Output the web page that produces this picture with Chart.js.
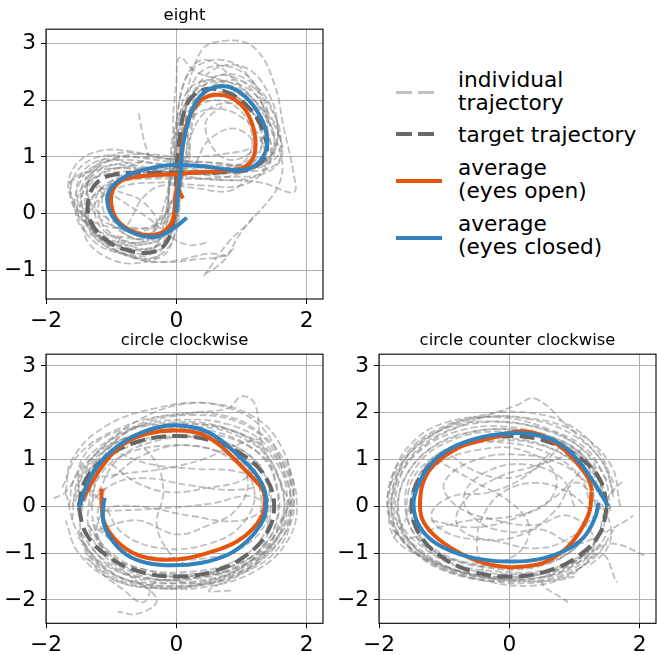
<!DOCTYPE html>
<html>
<head>
<meta charset="utf-8">
<script src="https://cdn.jsdelivr.net/npm/chart.js@4.4.1/dist/chart.umd.min.js"></script>
<style>
  body { margin: 0; background: #fff; }
  #wrap { position: relative; width: 657px; height: 655px; font-family: 'DejaVu Sans', sans-serif; }
  #wrap canvas { position: absolute; }
  .lg-line { position: absolute; left: 396px; width: 45px; }
  .lg-text { position: absolute; left: 458px; font-size: 21.7px; line-height: 23.3px; color: #000; white-space: nowrap; }
</style>
</head>
<body>
<div id="wrap">
  <canvas id="eight" width="330" height="330" style="left:0;top:0"></canvas>
  <canvas id="cw" width="330" height="330" style="left:0;top:325px"></canvas>
  <canvas id="ccw" width="324" height="330" style="left:333px;top:325px"></canvas>

  <div class="lg-line" style="top:90.6px;height:3.4px;background:repeating-linear-gradient(to right,#c0c0c0 0 15.7px,transparent 15.7px 22.3px)"></div>
  <div class="lg-text" style="top:67.5px">individual<br>trajectory</div>
  <div class="lg-line" style="top:132.3px;height:4px;background:repeating-linear-gradient(to right,#6a6a6a 0 15.7px,transparent 15.7px 22.3px)"></div>
  <div class="lg-text" style="top:122.5px">target trajectory</div>
  <div class="lg-line" style="top:179px;height:4px;width:46px;background:#e6550d"></div>
  <div class="lg-text" style="top:155.8px">average<br>(eyes open)</div>
  <div class="lg-line" style="top:235.5px;height:4px;width:46px;background:#3182bd"></div>
  <div class="lg-text" style="top:211.5px">average<br>(eyes closed)</div>
</div>

<script>
// axes ticks
const xTicks = [-2, 0, 2];
const eightYTicks = [-1, 0, 1, 2, 3];
const circleYTicks = [-2, -1, 0, 1, 2, 3];

// figure eight
const eightTarget = [[0.0,0.8],[0.06,1.42],[0.12,1.8],[0.25,2.07],[0.5,2.2],[0.85,2.1],[1.15,1.82],[1.33,1.45],[1.38,1.05],[1.15,0.8],[0.7,0.73],[0.2,0.73],[-0.4,0.72],[-0.9,0.7],[-1.2,0.57],[-1.35,0.25],[-1.32,-0.12],[-1.08,-0.46],[-0.75,-0.64],[-0.4,-0.68],[-0.18,-0.55],[-0.06,-0.22],[-0.01,0.3],[0.0,0.8]];
const eightOpen = [[0.1,0.27],[0.03,0.47],[0.05,0.75],[0.09,1.2],[0.19,1.68],[0.36,1.98],[0.57,2.09],[0.83,2.05],[1.06,1.83],[1.2,1.42],[1.19,1.02],[1.04,0.82],[0.78,0.76],[0.37,0.73],[-0.14,0.69],[-0.55,0.66],[-0.86,0.57],[-0.99,0.36],[-0.98,0.06],[-0.86,-0.17],[-0.6,-0.34],[-0.35,-0.37],[-0.16,-0.28],[-0.05,-0.08],[-0.01,0.3],[0.03,0.6]];
const eightClosed = [[0.16,-0.07],[-0.04,-0.25],[-0.3,-0.4],[-0.62,-0.36],[-0.93,-0.12],[-1.06,0.22],[-0.97,0.5],[-0.65,0.72],[-0.24,0.84],[0.06,0.86],[0.47,0.83],[0.88,0.77],[1.18,0.83],[1.36,1.07],[1.39,1.36],[1.29,1.71],[1.06,2.06],[0.78,2.24],[0.52,2.2],[0.32,2.0],[0.19,1.65],[0.1,1.2],[0.06,0.71],[0.02,0.3],[0.0,0.02]];
const eightRuns = [
  [[0.1,0.9],[0.15,1.6],[0.35,2.15],[0.7,2.45],[1.1,2.35],[1.45,1.9],[1.55,1.3],[1.3,0.9],[0.7,0.8],[0,0.85],[-0.7,0.9],[-1.2,0.75],[-1.45,0.3],[-1.3,-0.25],[-0.9,-0.55],[-0.4,-0.6],[-0.05,-0.3],[0.05,0.3],[0.1,0.9]],
  [[0.05,0.7],[0.1,1.6],[0.37,2.85],[0.78,3.05],[1.2,2.92],[1.5,2.3],[1.65,1.5],[1.8,0.7],[1.8,0.38],[1.3,0.55],[0.6,0.6],[-0.2,0.65],[-0.9,0.55],[-1.35,0.2],[-1.3,-0.35],[-0.8,-0.7],[-0.3,-0.75],[0,-0.3],[0.05,0.7]],
  [[0,0.7],[0.1,1.4],[0.3,1.85],[0.6,2.0],[0.95,1.85],[1.15,1.45],[1.1,1.0],[0.8,0.8],[0.3,0.75],[-0.3,0.8],[-0.8,0.7],[-1.1,0.4],[-1.1,0],[-0.8,-0.35],[-0.4,-0.45],[-0.1,-0.2],[0,0.7]],
  [[0.2,1.1],[0.15,1.8],[0.3,2.4],[0.6,2.6],[1.0,2.5],[1.3,2.1],[1.4,1.6],[1.2,1.2],[0.7,1.05],[0.1,1.0],[-0.6,1.05],[-1.1,0.9],[-1.35,0.55],[-1.3,0.1],[-1.0,-0.2],[-0.5,-0.3],[-0.1,0.1],[0.2,1.1]],
  [[-0.05,0.6],[0.0,1.3],[0.05,2.0],[0.25,2.6],[0.5,2.7],[0.85,2.4],[1.25,1.9],[1.55,1.25],[1.6,0.6],[1.2,-0.05],[0.8,-0.5],[0.42,-1.1]],
  [[0,0.85],[0.05,1.7],[0.2,2.2],[0.55,2.35],[0.95,2.15],[1.3,1.7],[1.45,1.15],[1.35,0.75],[0.9,0.65],[0.3,0.7],[-0.4,0.75],[-1.0,0.8],[-1.6,0.6],[-1.55,0.15],[-1.3,-0.3],[-0.9,-0.6],[-0.5,-0.7],[-0.15,-0.5],[0,0.85]],
  [[0.05,0.5],[0.1,1.2],[0.25,1.7],[0.6,1.85],[1.0,1.7],[1.3,1.3],[1.35,0.8],[1.0,0.5],[0.4,0.5],[-0.3,0.55],[-0.9,0.45],[-1.3,0.1],[-1.4,-0.4],[-1.0,-0.8],[-0.5,-0.85],[-0.1,-0.6],[0.05,0.5]],
  [[-0.1,0.8],[0.0,1.5],[0.2,2.05],[0.5,2.3],[0.85,2.3],[1.2,2.0],[1.55,1.45],[1.6,0.95],[1.2,0.65],[0.6,0.6],[0,0.7],[-0.6,0.85],[-1.15,0.95],[-1.5,0.6],[-1.45,0.0],[-1.1,-0.45],[-0.6,-0.55],[-0.2,-0.35],[-0.1,0.8]],
  [[0.1,0.7],[0.2,1.3],[0.45,1.8],[0.8,1.95],[1.15,1.8],[1.4,1.4],[1.45,1.0],[1.15,0.85],[0.6,0.9],[0,0.95],[-0.5,1.05],[-0.95,1.05],[-1.3,0.75],[-1.35,0.3],[-1.1,-0.05],[-0.6,-0.25],[-0.15,-0.1],[0.1,0.7]],
  [[-0.58,1.77],[-0.5,1.3],[-0.45,1.0],[-0.7,0.85],[-1.1,0.75],[-1.4,0.45],[-1.45,0.0],[-1.1,-0.5],[-0.6,-0.8],[-0.1,-0.85],[0.3,-0.8],[0.7,-0.75],[0.9,-0.6]],
  [[0,0.9],[-0.05,1.6],[0.0,2.3],[0.05,2.75],[0.3,2.5],[0.7,2.35],[1.1,2.2],[1.4,1.8],[1.6,1.3],[1.55,0.9],[1.2,0.75],[0.6,0.75],[0,0.8],[-0.6,0.7],[-1.0,0.5],[-1.2,0.1],[-1.0,-0.35],[-0.5,-0.5],[-0.1,-0.2],[0,0.9]],
  [[0.15,0.8],[0.2,1.5],[0.4,2.0],[0.7,2.15],[1.05,2.05],[1.3,1.7],[1.35,1.3],[1.05,0.9],[0.5,0.85],[-0.1,0.85],[-0.75,0.95],[-1.25,0.85],[-1.5,0.5],[-1.55,0.05],[-1.4,-0.3],[-0.9,-0.5],[-0.4,-0.4],[0.15,0.8]],
  [[1.18,-0.05],[0.95,-0.4],[0.78,-0.75],[0.6,-0.95],[0.45,-1.05]],
  [[0.05,0.75],[0.1,1.5],[0.3,2.0],[0.6,2.25],[0.95,2.2],[1.3,1.85],[1.5,1.35],[1.4,0.95],[1.0,0.75],[0.4,0.7],[-0.3,0.75],[-0.9,0.8],[-1.3,0.55],[-1.4,0.1],[-1.2,-0.35],[-0.8,-0.6],[-0.35,-0.6],[-0.05,-0.25],[0.05,0.75]],
  [[-0.05,0.85],[0.05,1.55],[0.25,2.1],[0.55,2.4],[0.9,2.4],[1.25,2.05],[1.45,1.5],[1.5,1.05],[1.25,0.8],[0.7,0.72],[0.1,0.72],[-0.5,0.8],[-1.05,0.85],[-1.4,0.6],[-1.45,0.15],[-1.2,-0.3],[-0.75,-0.55],[-0.3,-0.55],[-0.05,0.85]],
  [[0.1,0.6],[0.1,1.35],[0.3,1.9],[0.65,2.1],[1.0,2.0],[1.25,1.6],[1.3,1.15],[1.1,0.85],[0.6,0.75],[0.0,0.75],[-0.6,0.65],[-1.05,0.55],[-1.25,0.2],[-1.15,-0.25],[-0.75,-0.5],[-0.35,-0.5],[-0.05,-0.2],[0.1,0.6]],
  [[0,0.95],[0.1,1.7],[0.35,2.3],[0.7,2.6],[1.1,2.55],[1.4,2.15],[1.55,1.6],[1.5,1.1],[1.2,0.85],[0.6,0.82],[0,0.9],[-0.7,1.0],[-1.2,1.0],[-1.55,0.7],[-1.6,0.2],[-1.35,-0.2],[-0.9,-0.4],[-0.4,-0.35],[0,0.95]],
  [[-0.1,0.7],[-0.05,1.4],[0.15,1.95],[0.45,2.2],[0.8,2.15],[1.15,1.8],[1.35,1.35],[1.3,0.95],[0.95,0.7],[0.4,0.62],[-0.2,0.62],[-0.8,0.58],[-1.2,0.4],[-1.35,-0.05],[-1.15,-0.5],[-0.7,-0.75],[-0.25,-0.7],[-0.1,0.7]],
  [[0.2,0.95],[0.25,1.6],[0.45,2.15],[0.8,2.35],[1.15,2.25],[1.45,1.85],[1.6,1.35],[1.5,0.95],[1.1,0.85],[0.5,0.9],[-0.1,0.95],[-0.7,1.1],[-1.2,1.1],[-1.55,0.85],[-1.65,0.4],[-1.4,-0.05],[-0.9,-0.25],[-0.3,-0.15],[0.2,0.95]],
  [[-0.05,0.8],[0,1.6],[0.15,2.4],[0.4,2.65],[0.75,2.7],[1.05,2.5],[1.3,2.0],[1.4,1.4],[1.3,0.95],[0.9,0.75],[0.3,0.7],[-0.4,0.72],[-1.0,0.72],[-1.45,0.45],[-1.5,-0.05],[-1.25,-0.5],[-0.8,-0.7],[-0.35,-0.65],[-0.05,0.8]],
  [[-1.65,0.55],[-1.4,0.7],[-1.0,0.95],[-0.5,1.0],[0,0.95],[0.5,0.85],[1.0,0.8],[1.3,1.0]],
  [[0.78,-0.75],[0.5,-0.7],[0.1,-0.8],[-0.3,-0.85],[-0.7,-0.75],[-1.1,-0.5],[-1.35,-0.15]],
  [[-1.2,0.5],[-0.8,0.2],[-0.4,-0.1],[-0.1,-0.4],[0.2,-0.55],[0.5,-0.5]],
  [[-0.9,-0.5],[-0.7,-0.1],[-0.5,0.3],[-0.2,0.5],[0.3,0.45],[0.8,0.4],[1.1,0.6]],
  [[0.3,0.9],[0.5,1.3],[0.9,1.5],[1.2,1.2],[0.9,0.95],[0.6,1.1],[0.45,1.6],[0.7,1.9]],
  [[-1.4,0.65],[-1.1,0.3],[-0.9,-0.2],[-0.6,-0.45],[-0.3,-0.2],[-0.5,0.2],[-0.9,0.4]]
];

// circle clockwise
const cwTarget = [[-1.5,0],[-1.39,0.57],[-1.06,1.06],[-0.57,1.39],[0,1.5],[0.57,1.39],[1.06,1.06],[1.39,0.57],[1.5,0],[1.39,-0.57],[1.06,-1.06],[0.57,-1.39],[0,-1.5],[-0.57,-1.39],[-1.06,-1.06],[-1.39,-0.57],[-1.5,0]];
const cwOpen = [[-1.15,0.38],[-1.14,-0.11],[-1.09,-0.4],[-0.91,-0.75],[-0.6,-1.04],[-0.24,-1.14],[0.16,-1.11],[0.57,-0.96],[0.93,-0.75],[1.18,-0.47],[1.34,-0.11],[1.34,0.31],[1.23,0.52],[0.98,0.88],[0.67,1.3],[0.37,1.55],[-0.04,1.62],[-0.45,1.55],[-0.76,1.38],[-0.96,1.16],[-1.16,0.81],[-1.32,0.45],[-1.44,0.12]];
const cwClosed = [[-1.49,-0.03],[-1.4,0.35],[-1.27,0.74],[-1.01,1.16],[-0.65,1.5],[-0.24,1.7],[0.16,1.71],[0.57,1.52],[0.98,1.04],[1.23,0.67],[1.36,0.31],[1.37,-0.11],[1.29,-0.4],[1.08,-0.75],[0.78,-1.04],[0.37,-1.21],[-0.04,-1.26],[-0.45,-1.21],[-0.76,-1.04],[-1.01,-0.68],[-1.12,-0.33],[-1.12,0.0],[-1.1,0.18]];
const cwRuns = [
  [[-1.6,0],[-1.4,0.8],[-0.9,1.5],[0,1.8],[0.9,1.6],[1.5,1.0],[1.7,0.1],[1.5,-0.8],[0.9,-1.5],[0,-1.7],[-0.9,-1.5],[-1.4,-0.8],[-1.5,0]],
  [[-1.4,0.1],[-1.2,1.0],[-0.6,1.7],[0.3,1.95],[1.1,1.7],[1.6,1.0],[1.8,0.2],[1.6,-0.6],[1.1,-1.2],[0.3,-1.55],[-0.5,-1.5],[-1.1,-1.0],[-1.3,-0.3]],
  [[-1.5,-0.2],[-1.35,0.7],[-0.8,1.3],[0,1.5],[0.8,1.35],[1.3,0.8],[1.4,0.1],[1.0,-0.3],[0.2,-0.2],[-0.6,0.0],[-1.1,-0.1],[-1.2,-0.7],[-0.8,-1.3],[0,-1.5],[0.8,-1.4]],
  [[-1.7,0.3],[-1.6,1.0],[-1.1,1.7],[-0.3,2.1],[0.5,2.2],[1.2,1.9],[1.6,1.3],[1.75,0.5],[1.6,-0.4],[1.2,-1.1],[0.5,-1.6],[-0.3,-1.7],[-1.0,-1.4],[-1.5,-0.6],[-1.7,0.3]],
  [[-1.3,0.2],[-1.1,1.1],[-0.5,1.8],[0.3,2.0],[0.8,2.1],[1.0,2.35],[1.2,2.2],[1.3,1.4],[1.5,0.6],[1.55,-0.2],[1.3,-0.9],[0.8,-1.3],[0.1,-1.5],[-0.6,-1.4],[-1.1,-0.9],[-1.3,-0.2]],
  [[-1.2,0.3],[-0.9,1.0],[-0.3,1.4],[0.4,1.45],[1.0,1.1],[1.25,0.5],[0.9,0.35],[0.2,0.45],[-0.5,0.6],[-1.0,0.45],[-1.35,-0.1],[-1.2,-0.9],[-0.7,-1.5],[-0.3,-2.0],[-0.6,-2.3],[-0.9,-2.25]],
  [[-1.5,0.2],[-1.45,1.0],[-1.0,1.55],[-0.2,1.75],[0.6,1.7],[1.2,1.35],[1.55,0.7],[1.65,-0.1],[1.4,-0.8],[0.9,-1.25],[0.2,-1.45],[-0.5,-1.35],[-1.0,-1.0],[-1.35,-0.4]],
  [[-1.88,0.17],[-1.7,0.3],[-1.4,0.9],[-0.9,1.4],[-0.1,1.6],[0.7,1.5],[1.3,1.1],[1.6,0.5],[1.75,-0.3],[1.5,-1.0],[1.0,-1.45],[0.5,-1.8],[0.85,-1.8]],
  [[-1.3,-0.1],[-1.2,0.6],[-0.8,1.1],[-0.1,1.3],[0.6,1.2],[1.1,0.8],[1.3,0.2],[1.2,-0.4],[0.7,-0.9],[0,-1.1],[-0.7,-1.0],[-1.2,-0.5]],
  [[-1.1,-0.1],[-0.3,-0.05],[0.5,0.05],[1.2,0.2],[1.4,-0.3],[1.3,-0.9],[0.9,-1.4],[0.3,-1.7],[-0.3,-1.75],[-0.9,-1.6],[-1.4,-1.1]],
  [[-1.6,-0.3],[-1.5,0.6],[-1.1,1.3],[-0.5,1.9],[0.2,2.2],[0.8,2.1],[1.3,1.7],[1.6,1.0],[1.8,0.2],[1.7,-0.5],[1.2,-1.2],[0.6,-1.55],[-0.2,-1.65],[-0.9,-1.5],[-1.4,-1.0]],
  [[-1.0,0.6],[-0.5,1.1],[0.2,1.3],[0.9,0.95],[1.2,0.3],[1.0,-0.4],[0.5,-0.8],[-0.2,-0.9],[-0.8,-0.6],[-1.1,0.0],[-1.4,0.6],[-1.2,1.0]],
  [[-1.5,-0.5],[-1.3,-1.2],[-0.8,-1.8],[-0.5,-2.05],[-0.3,-1.6],[0.4,-1.65],[1.0,-1.4],[1.35,-1.0],[1.6,-0.3],[1.8,0.3],[1.7,1.0]],
  [[-1.55,0.1],[-1.4,0.75],[-1.0,1.3],[-0.4,1.6],[0.3,1.65],[0.9,1.45],[1.35,1.0],[1.55,0.4],[1.55,-0.3],[1.3,-0.9],[0.8,-1.35],[0.1,-1.55],[-0.6,-1.5],[-1.15,-1.1],[-1.5,-0.5]],
  [[-1.45,-0.1],[-1.35,0.6],[-0.95,1.25],[-0.35,1.6],[0.35,1.7],[0.95,1.5],[1.4,1.05],[1.6,0.45],[1.65,-0.2],[1.45,-0.85],[0.95,-1.35],[0.3,-1.6],[-0.4,-1.6],[-1.0,-1.3],[-1.35,-0.8]],
  [[-1.65,0.0],[-1.55,0.65],[-1.2,1.25],[-0.6,1.7],[0.1,1.85],[0.8,1.75],[1.35,1.35],[1.65,0.75],[1.75,0.05],[1.55,-0.65],[1.1,-1.2],[0.4,-1.5],[-0.4,-1.55],[-1.1,-1.25],[-1.55,-0.6]],
  [[-1.35,0.0],[-1.25,0.7],[-0.85,1.2],[-0.25,1.45],[0.45,1.45],[1.0,1.2],[1.35,0.7],[1.45,0.0],[1.3,-0.7],[0.85,-1.2],[0.2,-1.4],[-0.5,-1.35],[-1.05,-1.0],[-1.35,-0.4]],
  [[-1.75,0.4],[-1.5,1.1],[-0.9,1.65],[-0.1,1.95],[0.7,1.95],[1.3,1.55],[1.7,0.85],[1.85,0.0],[1.7,-0.75],[1.25,-1.35],[0.55,-1.7],[-0.3,-1.75],[-1.0,-1.55],[-1.5,-1.0],[-1.7,-0.3]],
  [[-1.0,1.2],[-0.4,0.9],[0.3,0.8],[0.9,0.75],[1.3,0.5],[1.4,-0.2],[1.1,-0.8],[0.5,-1.1],[-0.3,-1.1],[-0.9,-0.8],[-1.2,-0.3],[-1.1,0.4]],
  [[-1.45,0.3],[-1.2,1.05],[-0.6,1.55],[0.2,1.75],[0.9,1.6],[1.45,1.15],[1.7,0.5],[1.75,-0.2],[1.5,-0.9],[1.0,-1.4],[0.3,-1.7],[-0.5,-1.7],[-1.1,-1.4],[-1.45,-0.8]],
  [[-1.0,0.9],[-0.6,0.5],[-0.1,0.3],[0.5,0.4],[1.0,0.55],[1.3,0.9]],
  [[-1.2,-0.5],[-0.6,-0.3],[0.0,-0.6],[0.5,-0.4],[0.9,-0.1],[1.1,0.5],[0.9,1.1]],
  [[-0.6,1.4],[-0.3,0.9],[-0.2,0.3],[-0.3,-0.4],[-0.1,-1.0],[0.2,-1.3]],
  [[-1.3,0.6],[-0.8,0.7],[-0.2,0.8],[0.4,1.0],[0.9,1.3],[1.3,1.45]]
];

// circle counter clockwise
const ccwTarget = [[1.5,0],[1.39,0.57],[1.06,1.06],[0.57,1.39],[0,1.5],[-0.57,1.39],[-1.06,1.06],[-1.39,0.57],[-1.5,0],[-1.39,-0.57],[-1.06,-1.06],[-0.57,-1.39],[0,-1.5],[0.57,-1.39],[1.06,-1.06],[1.39,-0.57],[1.5,0]];
const ccwOpen = [[1.26,0.31],[1.23,-0.11],[1.08,-0.54],[0.88,-0.89],[0.62,-1.14],[0.42,-1.25],[0.01,-1.3],[-0.4,-1.21],[-0.81,-0.96],[-1.16,-0.61],[-1.34,-0.26],[-1.37,0.1],[-1.32,0.52],[-1.16,0.88],[-0.81,1.23],[-0.5,1.38],[-0.09,1.52],[0.11,1.6],[0.42,1.55],[0.72,1.34],[0.98,1.02],[1.21,0.6],[1.27,0.33]];
const ccwClosed = [[1.52,0],[1.29,0.52],[1.03,1.02],[0.72,1.38],[0.32,1.55],[-0.09,1.55],[-0.5,1.45],[-0.91,1.23],[-1.22,0.88],[-1.42,0.38],[-1.47,0],[-1.39,-0.4],[-1.17,-0.75],[-0.81,-1.0],[-0.4,-1.14],[0.01,-1.18],[0.42,-1.14],[0.83,-0.96],[1.13,-0.68],[1.31,-0.26],[1.37,0.07]];
const ccwRuns = [
  [[1.5,0],[1.3,0.8],[0.8,1.4],[0,1.65],[-0.8,1.5],[-1.4,1.0],[-1.7,0.2],[-1.6,-0.6],[-1.1,-1.2],[-0.3,-1.5],[0.5,-1.45],[1.1,-1.1],[1.45,-0.5]],
  [[1.6,0.3],[1.4,1.0],[0.9,1.7],[0.4,2.3],[0.1,2.15],[-0.6,1.8],[-1.3,1.3],[-1.7,0.6],[-1.8,-0.2],[-1.5,-0.9],[-0.9,-1.35],[-0.1,-1.55],[0.7,-1.45],[1.3,-1.0]],
  [[1.4,0.2],[1.2,0.9],[0.6,1.4],[-0.2,1.6],[-0.9,1.4],[-1.4,0.9],[-1.6,0.1],[-1.4,-0.7],[-0.9,-1.2],[-0.1,-1.4],[0.6,-1.35],[1.2,-1.0],[1.6,-0.8],[2.07,-1.05]],
  [[1.3,0.1],[1.1,0.8],[0.5,1.3],[-0.3,1.4],[-1.0,1.2],[-1.4,0.6],[-1.5,-0.1],[-1.3,-0.8],[-0.7,-1.2],[0.1,-1.3],[0.8,-1.1],[1.2,-0.6]],
  [[1.2,0.5],[0.8,0.9],[0.2,1.1],[-0.5,1.0],[-1.0,0.5],[-0.8,0.0],[-0.2,-0.3],[0.4,-0.4],[0.9,-0.2],[1.3,-0.7],[1.0,-1.2],[0.5,-1.6],[0.9,-2.05]],
  [[1.7,0.0],[1.55,0.9],[1.0,1.6],[0.2,1.9],[-0.6,1.85],[-1.3,1.4],[-1.75,0.7],[-1.85,-0.1],[-1.75,-0.7],[-1.3,-1.1],[-0.6,-1.45],[0.2,-1.6],[0.9,-1.5],[1.4,-1.0],[1.65,-1.63]],
  [[1.35,-0.2],[1.2,0.6],[0.7,1.2],[0,1.45],[-0.7,1.35],[-1.3,0.9],[-1.55,0.3],[-1.5,-0.5],[-1.1,-1.0],[-0.4,-1.3],[0.4,-1.3],[1.0,-0.9],[1.3,-0.3]],
  [[1.1,1.2],[0.5,0.9],[-0.2,0.6],[-0.7,0.1],[-0.8,-0.4],[-0.4,-0.7],[0.2,-0.6],[0.7,-0.1],[1.0,0.5],[1.3,0.2],[1.55,-0.4],[1.5,-0.9],[1.2,-1.3]],
  [[1.45,0.4],[1.2,1.1],[0.7,1.55],[-0.1,1.8],[-0.9,1.7],[-1.5,1.2],[-1.75,0.4],[-1.7,-0.4],[-1.3,-1.0],[-0.7,-1.4],[0.1,-1.5],[0.8,-1.3],[1.3,-0.8],[1.55,0.0]],
  [[1.0,0.0],[0.8,0.6],[0.2,0.9],[-0.4,0.7],[-0.7,0.2],[-0.5,-0.3],[0.0,-0.55],[0.5,-0.5],[1.0,-0.8],[1.4,-0.6],[1.8,-0.3],[1.9,-0.2]],
  [[1.6,0.5],[1.35,1.2],[0.9,1.75],[0.3,2.0],[-0.4,1.95],[-1.1,1.6],[-1.6,1.0],[-1.8,0.2],[-1.7,-0.6],[-1.2,-1.2],[-0.5,-1.55],[0.3,-1.7],[1.0,-1.5]],
  [[-1.4,0.4],[-1.1,0.9],[-0.5,1.2],[0.2,1.2],[0.7,0.7],[0.6,0.1],[0.1,-0.2],[-0.6,-0.3],[-1.2,-0.5],[-1.6,-0.7],[-1.8,-0.5]],
  [[1.45,0.1],[1.3,0.75],[0.9,1.3],[0.2,1.6],[-0.55,1.6],[-1.2,1.25],[-1.6,0.6],[-1.7,-0.1],[-1.5,-0.8],[-1.0,-1.3],[-0.25,-1.55],[0.55,-1.5],[1.15,-1.1],[1.45,-0.5]],
  [[1.55,-0.1],[1.45,0.65],[1.05,1.3],[0.4,1.7],[-0.35,1.8],[-1.05,1.55],[-1.55,1.0],[-1.8,0.3],[-1.7,-0.45],[-1.3,-1.05],[-0.6,-1.45],[0.2,-1.55],[0.95,-1.35],[1.4,-0.8]],
  [[1.35,0.3],[1.15,0.95],[0.65,1.45],[-0.05,1.7],[-0.8,1.6],[-1.4,1.15],[-1.7,0.5],[-1.7,-0.25],[-1.35,-0.85],[-0.75,-1.3],[0.05,-1.45],[0.8,-1.3],[1.3,-0.8],[1.45,-0.15]],
  [[1.6,0.2],[1.45,0.9],[1.0,1.5],[0.35,1.85],[-0.4,1.9],[-1.1,1.65],[-1.6,1.1],[-1.85,0.4],[-1.8,-0.35],[-1.45,-1.0],[-0.85,-1.45],[-0.05,-1.6],[0.75,-1.5],[1.3,-1.1],[1.6,-0.5]],
  [[1.25,-0.05],[1.1,0.6],[0.65,1.1],[0.0,1.35],[-0.7,1.3],[-1.25,0.9],[-1.5,0.25],[-1.45,-0.45],[-1.05,-1.0],[-0.4,-1.25],[0.35,-1.25],[0.95,-0.95],[1.25,-0.45]],
  [[0.6,1.1],[0.2,0.6],[-0.3,0.3],[-0.9,0.2],[-1.2,-0.2],[-0.9,-0.6],[-0.2,-0.75],[0.4,-0.9],[0.9,-0.7],[1.3,-0.2],[1.6,0.35],[1.75,0.55]],
  [[-1.78,-0.68],[-1.6,-0.3],[-1.45,0.3],[-1.1,0.95],[-0.5,1.4],[0.2,1.55],[0.8,1.4],[1.25,0.9],[1.45,0.3]],
  [[1.5,0.55],[1.2,1.2],[0.6,1.65],[-0.15,1.9],[-0.95,1.8],[-1.5,1.35],[-1.8,0.6],[-1.85,-0.2],[-1.55,-0.85],[-1.0,-1.35],[-0.25,-1.6],[0.55,-1.6],[1.15,-1.25],[1.5,-0.6]],
  [[-1.0,0.9],[-0.5,0.5],[0.0,0.1],[0.3,-0.4],[0.2,-0.9],[-0.1,-1.2]],
  [[-1.2,-0.3],[-0.6,-0.45],[0.0,-0.3],[0.6,0.1],[1.0,0.6],[1.2,1.0]],
  [[0.8,1.3],[0.4,0.8],[-0.1,0.6],[-0.6,0.8],[-0.9,1.1]],
  [[-0.4,-1.4],[-0.5,-0.8],[-0.4,-0.2],[-0.1,0.3],[0.4,0.5],[0.9,0.3],[1.25,-0.1]]
];

const tickFont = { family: 'DejaVu Sans', size: 21.7 };
const fmt = v => v < 0 ? '\u2212' + Math.abs(v) : String(v);

// rahmen um die achse (matplotlib spines)
const spines = {
  id: 'spines',
  afterDraw(chart) {
    const a = chart.chartArea, ctx = chart.ctx;
    ctx.save();
    ctx.strokeStyle = '#000';
    ctx.lineWidth = 1.1;
    ctx.strokeRect(a.left, a.top, a.right - a.left, a.bottom - a.top);
    ctx.restore();
  }
};

function line(pts, style) {
  return Object.assign({
    data: pts.map(p => ({ x: p[0], y: p[1] })),
    showLine: true, pointRadius: 0, fill: false, tension: 0.4,
    borderJoinStyle: 'round'
  }, style);
}

function panel(id, title, yMin, yTicks, runs, target, open, closed, xAxisH, padRight) {
  const datasets = [];
  datasets.push(line(closed, { borderColor: '#3182bd', borderWidth: 4, order: 0 }));
  datasets.push(line(open, { borderColor: '#e6550d', borderWidth: 4, order: 1 }));
  datasets.push(line(target, { borderColor: '#666', borderWidth: 4, borderDash: [15, 6.5], order: 2 }));
  runs.forEach(r => datasets.push(line(r, {
    borderColor: 'rgba(128,128,128,0.5)', borderWidth: 1.8, borderDash: [7, 3], order: 3
  })));

  new Chart(document.getElementById(id), {
    type: 'scatter',
    data: { datasets },
    options: {
      responsive: false,
      animation: false,
      devicePixelRatio: 1,
      layout: { padding: { left: 0, right: padRight, top: 0, bottom: 0 } },
      plugins: {
        legend: { display: false },
        tooltip: { enabled: false },
        title: {
          display: true, text: title, fullSize: false, color: '#000',
          font: { family: 'DejaVu Sans', size: 16.4, weight: 'normal' },
          padding: { top: 5.5, bottom: 4 }
        }
      },
      scales: {
        x: {
          type: 'linear', min: -2, max: 2.25,
          afterBuildTicks: s => { s.ticks = xTicks.map(v => ({ value: v })); },
          afterFit: s => { s.height = xAxisH; },
          ticks: { font: tickFont, color: '#000', padding: 4, maxRotation: 0, callback: v => fmt(v) },
          grid: { color: '#b0b0b0', lineWidth: 1, tickColor: '#000', tickLength: 5 },
          border: { display: false }
        },
        y: {
          type: 'linear', min: yMin, max: 3.25,
          afterBuildTicks: s => { s.ticks = yTicks.map(v => ({ value: v })); },
          afterFit: s => { s.width = 46; },
          ticks: { font: tickFont, color: '#000', padding: 5, callback: v => fmt(v) },
          grid: { color: '#b0b0b0', lineWidth: 1, tickColor: '#000', tickLength: 5 },
          border: { display: false }
        }
      }
    },
    plugins: [spines]
  });
}

panel('eight', 'eight', -1.5, eightYTicks, eightRuns, eightTarget, eightOpen, eightClosed, 31, 7);
panel('cw', 'circle clockwise', -2.5, circleYTicks, cwRuns, cwTarget, cwOpen, cwClosed, 31.7, 7);
panel('ccw', 'circle counter clockwise', -2.5, circleYTicks, ccwRuns, ccwTarget, ccwOpen, ccwClosed, 31.7, 1);
</script>
</body>
</html>
